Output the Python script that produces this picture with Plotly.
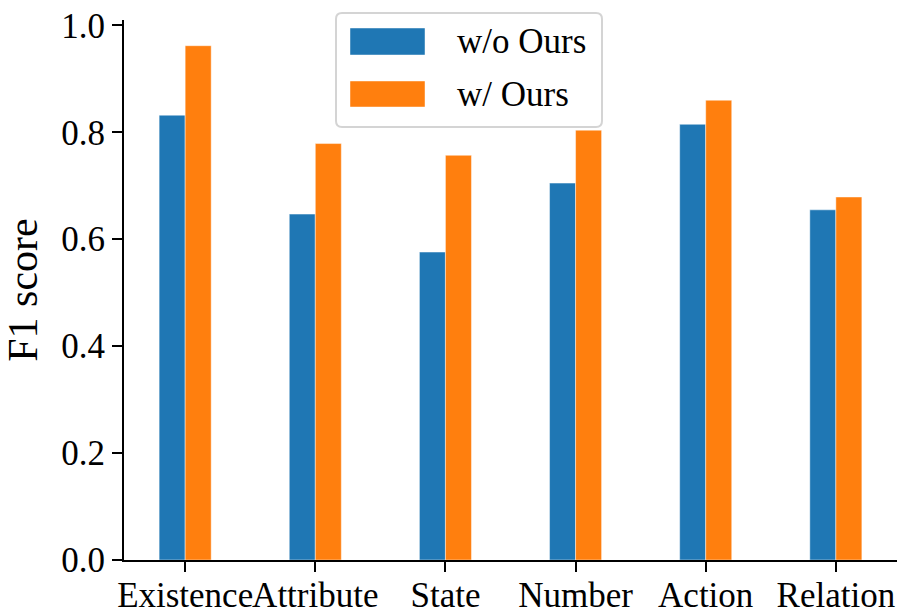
import plotly.graph_objects as go

categories = ["Existence", "Attribute", "State", "Number", "Action", "Relation"]
series_names = ["w/o Ours", "w/ Ours"]
wo_ours = [0.832, 0.647, 0.576, 0.705, 0.815, 0.655]
w_ours = [0.962, 0.779, 0.757, 0.804, 0.860, 0.679]
y_ticks = [0.0, 0.2, 0.4, 0.6, 0.8, 1.0]
colors = ["#1f77b4", "#ff7f0e"]

FONT = "Liberation Serif"
W, H = 905, 616
L, R, T, B = 124, 8, 20, 56
pw, ph = W - L - R, H - T - B

x_idx = list(range(len(categories)))
fig = go.Figure()
for name, vals, col, off in [(series_names[0], wo_ours, colors[0], -0.2),
                             (series_names[1], w_ours, colors[1], 0.0)]:
    fig.add_trace(go.Bar(
        x=x_idx, y=vals, name=name, width=0.2, offset=off,
        marker=dict(color=col, line=dict(color="rgba(255,255,255,0.45)", width=1)),
        showlegend=False,
    ))

def px_x(p):
    return (p - L) / pw

def px_y(p):
    return (H - B - p) / ph

# custom legend (matplotlib style)
bx0, bx1, by0, by1 = px_x(336), px_x(602), px_y(127), px_y(13)
rx, ry = 6 / pw, 6 / ph
path = (f"M {bx0+rx},{by1} L {bx1-rx},{by1} Q {bx1},{by1} {bx1},{by1-ry} "
        f"L {bx1},{by0+ry} Q {bx1},{by0} {bx1-rx},{by0} L {bx0+rx},{by0} "
        f"Q {bx0},{by0} {bx0},{by0+ry} L {bx0},{by1-ry} Q {bx0},{by1} {bx0+rx},{by1} Z")
shapes = [dict(type="path", xref="paper", yref="paper", path=path,
               fillcolor="rgba(255,255,255,0.8)", line=dict(color="#d4d4d4", width=2), layer="above")]
annotations = []
rows = [(28, 55), (81, 107)]
for (top, bot), name, col in zip(rows, series_names, colors):
    shapes.append(dict(type="rect", xref="paper", yref="paper",
                       x0=px_x(350), x1=px_x(425), y0=px_y(bot), y1=px_y(top),
                       fillcolor=col, line=dict(color="rgba(255,255,255,0.45)", width=1), layer="above"))
    annotations.append(dict(xref="paper", yref="paper", x=px_x(455), y=px_y((top + bot) / 2),
                            text=name, showarrow=False, xanchor="left", yanchor="middle",
                            font=dict(family=FONT, size=35, color="black")))

fig.update_layout(
    width=W, height=H,
    margin=dict(l=L, r=R, t=T, b=B, autoexpand=False),
    plot_bgcolor="white", paper_bgcolor="white",
    barmode="overlay",
    font=dict(family=FONT, size=35, color="black"),
    shapes=shapes, annotations=annotations,
    xaxis=dict(
        range=[-0.47, len(categories) - 1 + 0.47],
        tickmode="array", tickvals=x_idx, ticktext=categories,
        tickangle=0, ticklabelstandoff=-7,
        showline=True, linecolor="black", linewidth=2, mirror=False,
        ticks="outside", ticklen=10, tickwidth=2, tickcolor="black",
        showgrid=False, zeroline=False,
        tickfont=dict(family=FONT, size=35, color="black"),
    ),
    yaxis=dict(
        range=[0, 1.0101],
        tickmode="array", tickvals=y_ticks, ticktext=[f"{v:.1f}" for v in y_ticks],
        showline=True, linecolor="black", linewidth=2, mirror=False,
        ticks="outside", ticklen=10, tickwidth=2, tickcolor="black",
        showgrid=False, zeroline=False,
        tickfont=dict(family=FONT, size=35, color="black"),
        title=dict(text="F1 score", font=dict(family=FONT, size=42, color="black"), standoff=20),
    ),
)

fig.write_html("out.html")
